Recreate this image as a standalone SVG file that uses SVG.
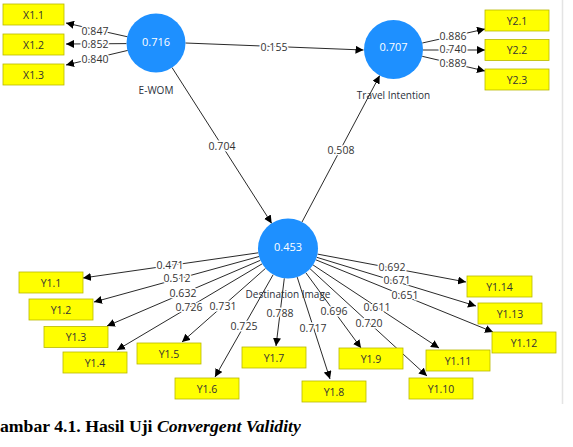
<svg xmlns="http://www.w3.org/2000/svg" width="573" height="447" viewBox="0 0 573 447">
<defs>
<marker id="ah" markerUnits="userSpaceOnUse" markerWidth="9" markerHeight="8" refX="8" refY="4" orient="auto">
<path d="M0,0 L8,4 L0,8 z" fill="#000"/>
</marker>
<style>
.box{fill:#FFFF00;stroke:#B8B800;stroke-width:0.8}
.bt{font-family:"Open Sans","DejaVu Sans",sans-serif;font-size:10.5px;fill:#333;text-anchor:middle;dominant-baseline:central}
.lv{fill:#1E90FF}
.ct{font-family:"Open Sans","DejaVu Sans",sans-serif;font-size:11px;fill:#fff;text-anchor:middle;dominant-baseline:central}
.nl{font-family:"Open Sans","DejaVu Sans",sans-serif;font-size:10px;fill:#2a2f3a;text-anchor:middle;dominant-baseline:central}
.ln{stroke:#111;stroke-width:0.9;fill:none;marker-end:url(#ah)}
.cl{font-family:"Open Sans","DejaVu Sans",sans-serif;font-size:10.5px;fill:#333;text-anchor:middle;dominant-baseline:central;stroke:#fff;stroke-width:3;paint-order:stroke;stroke-linejoin:round}
.cap{font-family:"Liberation Serif",serif;font-size:17.7px;font-weight:bold;fill:#000}
</style>
</defs>
<rect width="573" height="447" fill="#fff"/>
<line x1="562.5" y1="0" x2="562.5" y2="404" stroke="#e4e4e4" stroke-width="1.5"/>

<g id="connectors">
<line class="ln" x1="127.6" y1="36.8" x2="66" y2="23"/>
<line class="ln" x1="126.5" y1="43.6" x2="66" y2="44"/>
<line class="ln" x1="127.8" y1="50.4" x2="66" y2="65"/>
<line class="ln" x1="185.5" y1="43" x2="363.5" y2="50"/>
<line class="ln" x1="172" y1="67.5" x2="271.7" y2="223.4"/>
<line class="ln" x1="302" y1="222" x2="379.7" y2="75.6"/>
<line class="ln" x1="422.3" y1="43" x2="485" y2="29"/>
<line class="ln" x1="423" y1="50" x2="485" y2="50"/>
<line class="ln" x1="422.2" y1="56.3" x2="485" y2="71"/>
<line class="ln" x1="258.3" y1="252.8" x2="83" y2="278"/>
<line class="ln" x1="259.1" y1="256.5" x2="94" y2="302"/>
<line class="ln" x1="260.4" y1="260.3" x2="107" y2="326"/>
<line class="ln" x1="262.2" y1="263.8" x2="117" y2="350"/>
<line class="ln" x1="265.5" y1="268.4" x2="182" y2="342"/>
<line class="ln" x1="273.2" y1="274.6" x2="215" y2="377"/>
<line class="ln" x1="284.3" y1="278.3" x2="276" y2="346"/>
<line class="ln" x1="297.2" y1="277.1" x2="330" y2="379"/>
<line class="ln" x1="305.8" y1="272.7" x2="361" y2="348"/>
<line class="ln" x1="310.1" y1="268.8" x2="427" y2="376"/>
<line class="ln" x1="313.1" y1="265" x2="439" y2="348"/>
<line class="ln" x1="315.8" y1="259.8" x2="493" y2="332"/>
<line class="ln" x1="316.7" y1="257.3" x2="476" y2="306"/>
<line class="ln" x1="317.5" y1="254.1" x2="466" y2="282"/>

<text class="cl" x="95" y="31">0.847</text>
<text class="cl" x="95" y="44">0.852</text>
<text class="cl" x="95" y="59">0.840</text>
<text class="cl" x="274" y="47">0.155</text>
<text class="cl" x="222" y="146">0.704</text>
<text class="cl" x="341" y="150">0.508</text>
<text class="cl" x="453" y="36">0.886</text>
<text class="cl" x="453" y="49">0.740</text>
<text class="cl" x="453" y="63">0.889</text>
<text class="cl" x="170" y="265">0.471</text>
<text class="cl" x="177" y="278">0.512</text>
<text class="cl" x="183" y="293">0.632</text>
<text class="cl" x="189" y="307">0.726</text>
<text class="cl" x="223" y="306">0.731</text>
<text class="cl" x="244" y="326">0.725</text>
<text class="cl" x="280" y="313">0.788</text>
<text class="cl" x="313" y="328">0.717</text>
<text class="cl" x="334" y="311">0.696</text>
<text class="cl" x="369" y="323">0.720</text>
<text class="cl" x="377" y="307">0.611</text>
<text class="cl" x="405" y="295">0.651</text>
<text class="cl" x="397" y="280">0.671</text>
<text class="cl" x="392" y="267">0.692</text>
</g>

<g id="ewom"><circle class="lv" cx="156" cy="43" r="29.5"/><text class="ct" x="156" y="41">0.716</text><text class="nl" x="156" y="90">E-WOM</text></g>
<g id="ti"><circle class="lv" cx="393.5" cy="49.5" r="29.5"/><text class="ct" x="393.5" y="46">0.707</text><text class="nl" x="393.5" y="95">Travel Intention</text></g>
<g id="di"><circle class="lv" cx="288" cy="248.5" r="30"/><text class="ct" x="288" y="246">0.453</text><text class="nl" x="288" y="294">Destination Image</text></g>

<g id="x11"><rect class="box" x="3" y="4" width="61" height="21"/><text class="bt" x="33.5" y="14.5">X1.1</text></g>
<g id="x12"><rect class="box" x="3" y="34" width="61" height="21"/><text class="bt" x="33.5" y="44.5">X1.2</text></g>
<g id="x13"><rect class="box" x="3" y="64" width="61" height="21"/><text class="bt" x="33.5" y="74.5">X1.3</text></g>

<g id="y21"><rect class="box" x="485" y="10" width="64" height="21"/><text class="bt" x="517" y="20.5">Y2.1</text></g>
<g id="y22"><rect class="box" x="485" y="39.5" width="64" height="21"/><text class="bt" x="517" y="50">Y2.2</text></g>
<g id="y23"><rect class="box" x="485" y="69" width="64" height="21"/><text class="bt" x="517" y="79.5">Y2.3</text></g>

<g id="y11"><rect class="box" x="19" y="272" width="64" height="21"/><text class="bt" x="51" y="282.5">Y1.1</text></g>
<g id="y12"><rect class="box" x="29" y="299" width="64" height="21"/><text class="bt" x="61" y="309.5">Y1.2</text></g>
<g id="y13"><rect class="box" x="44" y="326.5" width="64" height="21"/><text class="bt" x="76" y="337">Y1.3</text></g>
<g id="y14"><rect class="box" x="63" y="352" width="64" height="21"/><text class="bt" x="95" y="362.5">Y1.4</text></g>
<g id="y15"><rect class="box" x="137" y="343" width="64" height="21"/><text class="bt" x="169" y="353.5">Y1.5</text></g>
<g id="y16"><rect class="box" x="175" y="378" width="64" height="21"/><text class="bt" x="207" y="388.5">Y1.6</text></g>
<g id="y17"><rect class="box" x="242" y="347" width="64" height="21"/><text class="bt" x="274" y="357.5">Y1.7</text></g>
<g id="y18"><rect class="box" x="302" y="381" width="64" height="21"/><text class="bt" x="334" y="391.5">Y1.8</text></g>
<g id="y19"><rect class="box" x="339" y="348" width="64" height="21"/><text class="bt" x="371" y="358.5">Y1.9</text></g>
<g id="y110"><rect class="box" x="409" y="378" width="64" height="21"/><text class="bt" x="441" y="388.5">Y1.10</text></g>
<g id="y111"><rect class="box" x="426" y="350" width="64" height="21"/><text class="bt" x="458" y="360.5">Y1.11</text></g>
<g id="y112"><rect class="box" x="492" y="332" width="64" height="21"/><text class="bt" x="524" y="342.5">Y1.12</text></g>
<g id="y113"><rect class="box" x="478" y="303" width="64" height="21"/><text class="bt" x="510" y="313.5">Y1.13</text></g>
<g id="y114"><rect class="box" x="467" y="276" width="65" height="21"/><text class="bt" x="499.5" y="286.5">Y1.14</text></g>

<text class="cap" x="0" y="432">ambar 4.1. Hasil Uji <tspan font-style="italic">Convergent Validity</tspan></text>
</svg>
